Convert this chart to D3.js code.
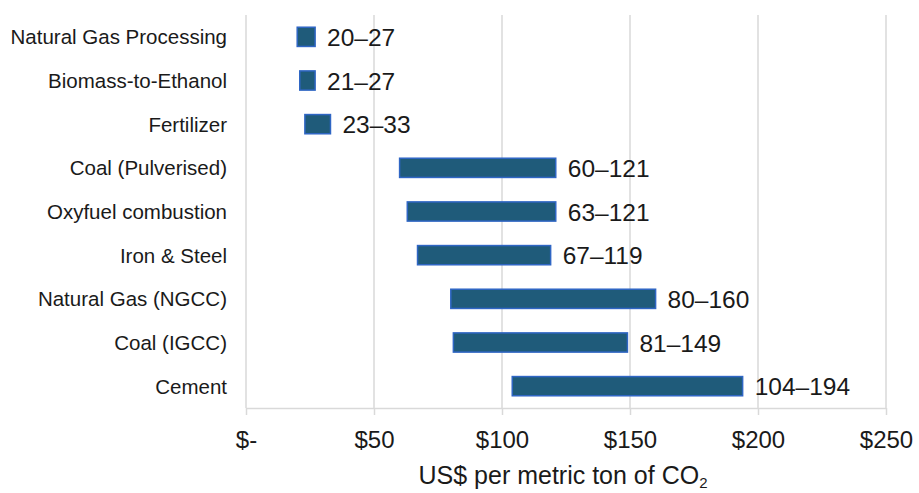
<!DOCTYPE html>
<html>
<head>
<meta charset="utf-8">
<script src="https://cdn.jsdelivr.net/npm/d3@7"></script>
<style>
  html, body { margin: 0; padding: 0; background: #fff; }
  svg { display: block; }
</style>
</head>
<body>
<svg id="chart" width="919" height="493"></svg>
<script>
const categories = ["Natural Gas Processing", "Biomass-to-Ethanol", "Fertilizer", "Coal (Pulverised)",
  "Oxyfuel combustion", "Iron & Steel", "Natural Gas (NGCC)", "Coal (IGCC)", "Cement"];
const lowValues  = [20, 21, 23, 60, 63, 67, 80, 81, 104];
const highValues = [27, 27, 33, 121, 121, 119, 160, 149, 194];
const tickValues = [0, 50, 100, 150, 200, 250];
const tickLabels = ["$-", "$50", "$100", "$150", "$200", "$250"];
const axisTitle = "US$ per metric ton of CO";
const axisTitleSub = "2";

const svg = d3.select("#chart");
const margin = { top: 15, left: 246, right: 33, bottom: 85 };
const W = 919, H = 493;
const x = d3.scaleLinear().domain([0, 250]).range([margin.left, W - margin.right]);
const y = d3.scaleBand().domain(categories).range([margin.top, H - margin.bottom]).paddingInner(0.56).paddingOuter(0.28);

const font = "'Liberation Sans', Arial, sans-serif";

// gridlines + ticks via axis
const gx = svg.append("g").attr("transform", `translate(0,${H - margin.bottom})`)
  .call(d3.axisBottom(x).tickValues(tickValues)
    .tickSize(7).tickFormat((d, i) => tickLabels[i]).tickPadding(16));
gx.select(".domain").attr("stroke", "#d9d9d9").attr("stroke-width", 1.5).attr("d", `M${x(0)},0.5H${x(250)}`);
gx.selectAll(".tick line").attr("stroke", "#d9d9d9").attr("stroke-width", 1.5);
gx.selectAll(".tick text").attr("font-family", font).attr("font-size", 24).attr("fill", "#1a1a1a");

svg.append("g").selectAll("line").data(tickValues).join("line")
  .attr("x1", d => x(d)).attr("x2", d => x(d))
  .attr("y1", margin.top).attr("y2", H - margin.bottom)
  .attr("stroke", "#d9d9d9").attr("stroke-width", 1.5);

// bars
svg.append("g").selectAll("rect").data(categories).join("rect")
  .attr("x", (d, i) => x(lowValues[i]))
  .attr("y", d => y(d))
  .attr("width", (d, i) => x(highValues[i]) - x(lowValues[i]))
  .attr("height", y.bandwidth())
  .attr("fill", "#1f5b7a")
  .attr("stroke", "#2f66c4")
  .attr("stroke-width", 1.5);

// value labels
svg.append("g").selectAll("text").data(categories).join("text")
  .attr("x", (d, i) => x(highValues[i]) + 12)
  .attr("y", d => y(d) + y.bandwidth() / 2)
  .attr("dy", "0.38em")
  .attr("font-family", font).attr("font-size", 24.5).attr("fill", "#1a1a1a")
  .text((d, i) => `${lowValues[i]}–${highValues[i]}`);

// category labels
svg.append("g").selectAll("text").data(categories).join("text")
  .attr("x", 227)
  .attr("y", d => y(d) + y.bandwidth() / 2)
  .attr("dy", "0.36em")
  .attr("text-anchor", "end")
  .attr("font-family", font).attr("font-size", 20.5).attr("fill", "#1a1a1a")
  .text(d => d);

// axis title
const t = svg.append("text")
  .attr("x", 563).attr("y", 484)
  .attr("text-anchor", "middle")
  .attr("font-family", font).attr("font-size", 25).attr("fill", "#1a1a1a");
t.append("tspan").text(axisTitle);
t.append("tspan").attr("font-size", 15).attr("dy", 4).text(axisTitleSub);
</script>
</body>
</html>
